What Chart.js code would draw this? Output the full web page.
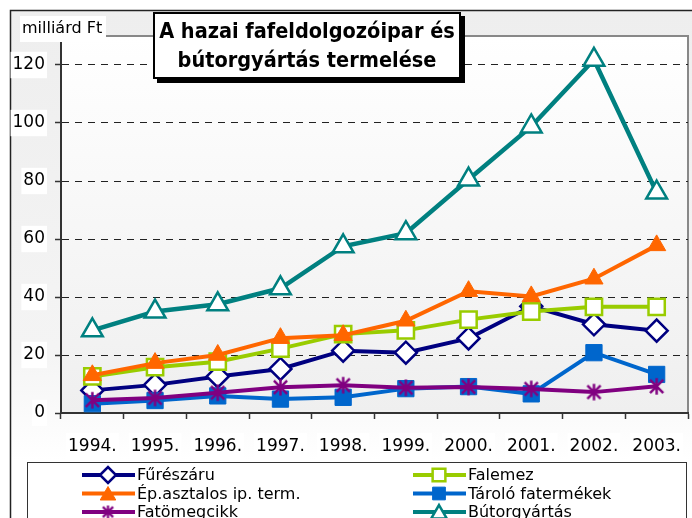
<!DOCTYPE html>
<html>
<head>
<meta charset="utf-8">
<script src="https://cdn.jsdelivr.net/npm/chart.js@4.4.0/dist/chart.umd.min.js"></script>
<style>
  html, body { margin: 0; padding: 0; background: #fff; }
  #wrap { width: 692px; height: 518px; }
</style>
</head>
<body>
<div id="wrap"><canvas id="prodChart" width="692" height="518"></canvas></div>
<script>
// évek és sorozatok (milliárd Ft)
const years = ['1994.', '1995.', '1996.', '1997.', '1998.', '1999.', '2000.', '2001.', '2002.', '2003.'];
const fureszaru = [7.8, 9.7, 12.6, 15.2, 21.5, 20.8, 25.7, 36.8, 30.6, 28.4];
const falemez = [12.6, 15.8, 17.7, 22.2, 27.2, 28.5, 32.2, 35.0, 36.6, 36.6];
const epAsztalos = [13.0, 17.2, 20.0, 25.8, 26.8, 31.8, 42.0, 40.2, 46.3, 57.8];
const tarolo = [3.2, 4.3, 5.9, 4.8, 5.4, 8.4, 9.1, 6.6, 20.8, 13.3];
const fatomegcikk = [4.4, 5.2, 7.0, 8.9, 9.6, 8.7, 9.0, 8.3, 7.2, 9.2];
const butorgyartas = [28.5, 35.0, 37.5, 43.0, 57.5, 62.0, 80.5, 98.8, 121.8, 76.0];
const seriesNames = ['Fűrészáru', 'Falemez', 'Ép.asztalos ip. term.', 'Tároló fatermékek', 'Fatömegcikk', 'Bútorgyártás'];
const yMax = 130;

// csillag jelölő (Excel-szerű *)
function makeStar(size, color, lw) {
  const c = document.createElement('canvas');
  c.width = size; c.height = size;
  const g = c.getContext('2d');
  const h = size / 2, a = h - lw / 2;
  g.strokeStyle = color;
  g.lineWidth = lw;
  g.beginPath();
  g.moveTo(h, h - a); g.lineTo(h, h + a);
  g.moveTo(h - a * 0.8, h - a * 0.8); g.lineTo(h + a * 0.8, h + a * 0.8);
  g.moveTo(h + a * 0.8, h - a * 0.8); g.lineTo(h - a * 0.8, h + a * 0.8);
  g.stroke();
  return c;
}
const starBig = makeStar(19, '#800080', 2.5);
const starSmall = makeStar(15, '#800080', 2.2);

const datasets = [
  { label: seriesNames[0], data: fureszaru, borderColor: '#000080', backgroundColor: '#ffffff',
    pointStyle: 'rectRot', pointRadius: 11, pointBorderWidth: 2.5, lgRadius: 8 },
  { label: seriesNames[1], data: falemez, borderColor: '#99cc00', backgroundColor: '#ffffff',
    pointStyle: 'rect', pointRadius: 11.5, pointBorderWidth: 2.5, lgRadius: 9 },
  { label: seriesNames[2], data: epAsztalos, borderColor: '#ff6600', backgroundColor: '#ff6600',
    pointStyle: 'triangle', pointRadius: 10.5, pointBorderWidth: 1, lgRadius: 9 },
  { label: seriesNames[3], data: tarolo, borderColor: '#0066cc', backgroundColor: '#0066cc',
    pointStyle: 'rect', pointRadius: 11.5, pointBorderWidth: 1, lgRadius: 9 },
  { label: seriesNames[4], data: fatomegcikk, borderColor: '#800080', backgroundColor: '#800080',
    pointStyle: starBig, pointRadius: 10, pointBorderWidth: 0, lgStar: starSmall },
  { label: seriesNames[5], data: butorgyartas, borderColor: '#008080', backgroundColor: '#ffffff',
    pointStyle: 'triangle', pointRadius: 12, pointBorderWidth: 2.5, lgRadius: 9 }
];
datasets.forEach((d, i) => {
  d.borderWidth = i === 5 ? 4.5 : 4;
  d.pointBackgroundColor = d.backgroundColor;
  d.pointBorderColor = d.borderColor;
  d.order = datasets.length - i;
  d.tension = 0;
});

const frame = {
  id: 'frame',
  beforeDraw(chart) {
    const ctx = chart.ctx, a = chart.chartArea;
    ctx.save();
    const bg = ctx.createLinearGradient(0, 10, 0, 460);
    bg.addColorStop(0, '#eeeeee');
    bg.addColorStop(0.75, '#f4f4f4');
    bg.addColorStop(1, '#ffffff');
    ctx.fillStyle = bg;
    ctx.fillRect(10, 10, 682, 508);
    const pg = ctx.createLinearGradient(0, a.top, 0, a.bottom);
    pg.addColorStop(0, '#ffffff');
    pg.addColorStop(1, '#efefef');
    ctx.fillStyle = pg;
    ctx.fillRect(a.left, a.top, a.right - a.left, a.bottom - a.top);
    ctx.strokeStyle = '#888';
    ctx.lineWidth = 2;
    ctx.strokeRect(a.left, a.top, a.right - a.left, a.bottom - a.top);
    ctx.strokeStyle = '#222';
    ctx.lineWidth = 1.5;
    ctx.beginPath();
    ctx.moveTo(10.5, 518); ctx.lineTo(10.5, 10.5); ctx.lineTo(692, 10.5);
    ctx.stroke();
    ctx.restore();
  },
  afterDraw(chart) {
    const ctx = chart.ctx;
    ctx.save();
    // tengelycím
    ctx.fillStyle = '#fff';
    ctx.fillRect(20, 16, 86, 26);
    ctx.fillStyle = '#000';
    ctx.font = '16px "DejaVu Sans"';
    ctx.textBaseline = 'middle';
    ctx.textAlign = 'left';
    ctx.fillText('milliárd Ft', 22, 29);
    // címdoboz
    ctx.fillStyle = '#000';
    ctx.fillRect(157, 16, 308, 67);
    ctx.fillStyle = '#fff';
    ctx.fillRect(153, 12, 308, 67);
    ctx.strokeStyle = '#000';
    ctx.lineWidth = 2;
    ctx.strokeRect(154, 13, 306, 65);
    ctx.fillStyle = '#000';
    ctx.font = 'bold 21.5px "DejaVu Sans Condensed"';
    ctx.textAlign = 'center';
    ctx.fillText('A hazai fafeldolgozóipar és', 307, 32);
    ctx.fillText('bútorgyártás termelése', 307, 61);
    // jelmagyarázat
    ctx.fillStyle = '#fff';
    ctx.fillRect(27, 462, 660, 60);
    ctx.strokeStyle = '#333';
    ctx.lineWidth = 1;
    ctx.strokeRect(27.5, 462.5, 659, 60);
    ctx.font = '16px "DejaVu Sans"';
    ctx.textAlign = 'left';
    chart.data.datasets.forEach((d, i) => {
      const x0 = i % 2 === 0 ? 82 : 413;
      const y = 475 + Math.floor(i / 2) * 18.5;
      ctx.strokeStyle = d.borderColor;
      ctx.lineWidth = 4;
      ctx.beginPath();
      ctx.moveTo(x0, y); ctx.lineTo(x0 + 53, y);
      ctx.stroke();
      ctx.fillStyle = d.pointBackgroundColor;
      ctx.strokeStyle = d.pointBorderColor;
      ctx.lineWidth = d.pointBorderWidth;
      if (d.lgStar) {
        ctx.drawImage(d.lgStar, x0 + 26 - d.lgStar.width / 2, y - d.lgStar.height / 2);
      } else {
        Chart.helpers.drawPoint(ctx, { pointStyle: d.pointStyle, radius: d.lgRadius,
          borderWidth: d.pointBorderWidth, rotation: 0 }, x0 + 26, y + (d.pointStyle === 'triangle' ? 2 : 0));
      }
      ctx.fillStyle = '#000';
      ctx.fillText(d.label, x0 + 55, y + 1);
    });
    ctx.restore();
  }
};

new Chart(document.getElementById('prodChart'), {
  type: 'line',
  data: { labels: years, datasets: datasets },
  options: {
    responsive: false,
    animation: false,
    events: [],
    layout: { autoPadding: false, padding: { top: 36, right: 4, left: 0, bottom: 0 } },
    plugins: { legend: { display: false }, tooltip: { enabled: false } },
    scales: {
      x: {
        offset: true,
        afterFit: s => { s.height = 105; s.paddingLeft = 0; s.paddingRight = 0; },
        grid: { drawOnChartArea: false, tickLength: 6, tickColor: '#333', tickWidth: 1.5, offset: true },
        border: { display: true, color: '#333', width: 2 },
        ticks: { color: '#000', font: { family: 'DejaVu Sans', size: 17 }, padding: 17,
          maxRotation: 0, autoSkip: false,
          showLabelBackdrop: true, backdropColor: '#fff', backdropPadding: { x: 2, y: 3 } }
      },
      y: {
        min: 0,
        max: yMax,
        afterFit: s => { s.width = 61; },
        grid: {
          color: c => (c.tick && c.tick.value === 0) ? 'rgba(0,0,0,0)' : '#222',
          lineWidth: 1, tickLength: 6, tickColor: '#333', tickWidth: 1.5, tickBorderDash: []
        },
        border: { display: true, color: '#333', width: 2, dash: [7, 6] },
        ticks: { stepSize: 20, includeBounds: false, color: '#000',
          font: { family: 'DejaVu Sans', size: 17 }, padding: 10,
          showLabelBackdrop: true, backdropColor: '#fff', backdropPadding: { x: 2, y: 3 } }
      }
    }
  },
  plugins: [frame]
});
</script>
</body>
</html>
